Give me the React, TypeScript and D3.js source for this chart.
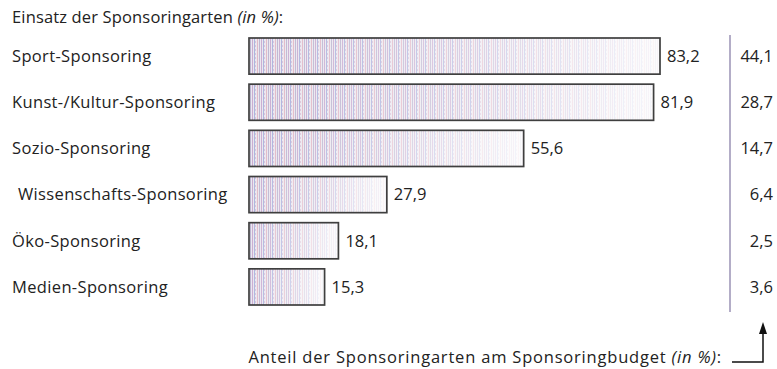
import React from "react";
import { scaleLinear, scaleBand } from "d3";

const categories = [
  "Sport-Sponsoring",
  "Kunst-/Kultur-Sponsoring",
  "Sozio-Sponsoring",
  "Wissenschafts-Sponsoring",
  "Öko-Sponsoring",
  "Medien-Sponsoring",
];
const einsatz = [83.2, 81.9, 55.6, 27.9, 18.1, 15.3];
const budget = [44.1, 28.7, 14.7, 6.4, 2.5, 3.6];

const fmt = (v: number) => v.toFixed(1).replace(".", ",");

export default function App() {
  const width = 777;
  const height = 369;
  const font = "'Open Sans', sans-serif";
  const fs = 16.5;

  const xScale = scaleLinear().domain([0, 100]).range([249, 743]);
  const yScale = scaleBand<string>()
    .domain(categories)
    .range([38, 305])
    .paddingInner(0.217)
    .paddingOuter(0);

  return (
    <svg
      width={width}
      height={height}
      style={{ position: "absolute", left: 0, top: 0, background: "#fff" }}
      fontFamily={font}
    >
      <defs>
        <pattern id="stripes" width="9" height="4" patternUnits="userSpaceOnUse">
          <rect width="9" height="4" fill="#e9e6ee" />
          <rect x="0" width="1" height="4" fill="#c7a8cf" />
          <rect x="2" width="1" height="4" fill="#a7b0dc" />
          <rect x="3" y="1" width="1" height="2" fill="#d8c0d8" />
          <rect x="5" width="1" height="4" fill="#e0b4c4" />
          <rect x="7" width="1" height="4" fill="#b9b2cf" />
        </pattern>
        <linearGradient id="fade" x1="0" x2="1" y1="0" y2="0">
          <stop offset="0" stopColor="#fff" stopOpacity={0.05} />
          <stop offset="0.5" stopColor="#fff" stopOpacity={0.4} />
          <stop offset="1" stopColor="#fff" stopOpacity={0.88} />
        </linearGradient>
      </defs>

      <text x={12} y={17} dy="0.35em" fontSize={fs} letterSpacing={0.15} fill="#222">
        Einsatz der Sponsoringarten <tspan fontStyle="italic">(in %)</tspan>:
      </text>

      {categories.map((c, i) => {
        const y = yScale(c)!;
        const h = yScale.bandwidth();
        const x0 = xScale(0);
        const w = xScale(einsatz[i]) - x0;
        const cy = y + h / 2;
        return (
          <g key={c}>
            <text
              x={i === 3 ? 18 : 12}
              y={cy}
              dy="0.35em"
              fontSize={fs}
              letterSpacing={0.35}
              fill="#222"
            >
              {c}
            </text>
            <rect x={x0} y={y} width={w} height={h} fill="url(#stripes)" />
            <rect x={x0} y={y} width={w} height={h} fill="url(#fade)" />
            <rect
              x={x0}
              y={y}
              width={w}
              height={h}
              fill="none"
              stroke="#3f3f3f"
              strokeWidth={1.7}
            />
            <text x={x0 + w + 7} y={cy} dy="0.35em" fontSize={fs} fill="#222">
              {fmt(einsatz[i])}
            </text>
            <text x={773} y={cy} dy="0.35em" fontSize={fs} fill="#222" textAnchor="end">
              {fmt(budget[i])}
            </text>
          </g>
        );
      })}

      <line x1={730} x2={730} y1={35} y2={312} stroke="#9a92b4" strokeWidth={1.5} />

      <text
        x={722}
        y={357}
        dy="0.35em"
        fontSize={fs}
        letterSpacing={0.8}
        fill="#222"
        textAnchor="end"
      >
        Anteil der Sponsoringarten am Sponsoringbudget <tspan fontStyle="italic">(in %)</tspan>:
      </text>
      <path d="M732,362 H763 V331" fill="none" stroke="#111" strokeWidth={1.5} />
      <path d="M759,334 L763,322 L767,334 Z" fill="#111" />
    </svg>
  );
}
